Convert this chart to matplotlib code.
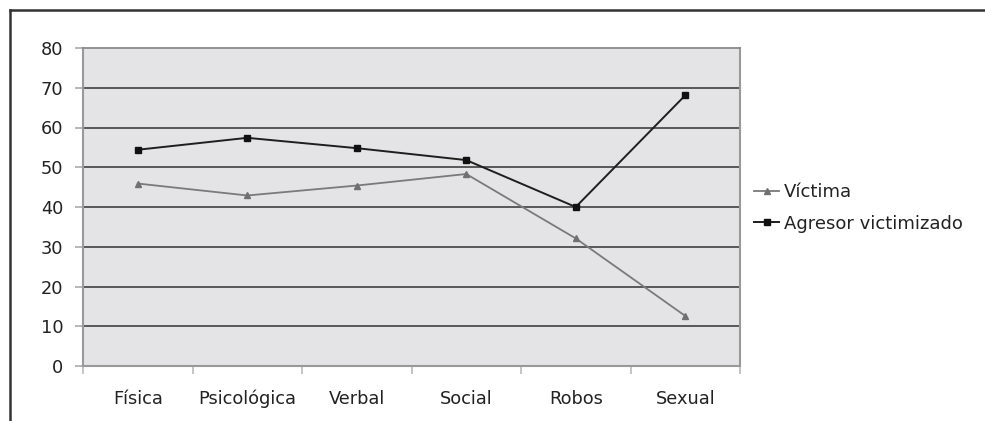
import matplotlib
matplotlib.use("Agg")
import matplotlib.pyplot as plt
from matplotlib.lines import Line2D

categories = ["Física", "Psicológica", "Verbal", "Social", "Robos", "Sexual"]
victima = [45.9, 42.9, 45.4, 48.3, 32.1, 12.6]
agresor = [54.4, 57.4, 54.8, 51.8, 40.0, 68.1]
series_names = ["Víctima", "Agresor victimizado"]
yticks = [0, 10, 20, 30, 40, 50, 60, 70, 80]

plt.rcParams['font.family'] = ['DejaVu Sans']

fig = plt.figure(figsize=(9.85, 4.21), dpi=100)
ax = fig.add_axes([83/985, 55/421, (740-83)/985, (366-48)/421])
ax.set_facecolor("#e4e4e6")

x = list(range(len(categories)))
ax.set_xlim(-0.5, len(categories) - 0.5)
ax.set_ylim(0, 80)

for yv in yticks[1:-1]:
    ax.axhline(yv, color="#4d4d4d", lw=1.3, zorder=1)

l1, = ax.plot(x, victima, color="#7a7a7a", lw=1.3, marker="^", ms=5,
              markerfacecolor="#707070", markeredgecolor="#707070", zorder=3)
l2, = ax.plot(x, agresor, color="#1e1e1e", lw=1.4, marker="s", ms=4.5,
              markerfacecolor="#111111", markeredgecolor="#111111", zorder=3)

ax.set_yticks(yticks)
ax.set_yticklabels([str(v) for v in yticks], fontsize=12.8, color="#222222")
ax.set_xticks(x)
ax.set_xticklabels(categories, fontsize=12.8, color="#222222")
ax.tick_params(axis="y", length=6, width=1.2, color="#aaaaaa", pad=8)
ax.tick_params(axis="x", length=0, pad=17)
# minor ticks at category boundaries
ax.set_xticks([i - 0.5 for i in range(len(categories) + 1)], minor=True)
ax.tick_params(axis="x", which="minor", length=6, width=1.2, color="#bbbbbb")

for s in ["left", "right", "bottom"]:
    ax.spines[s].set_color("#999999")
    ax.spines[s].set_linewidth(1.5)
ax.spines["top"].set_color("#8a8a8a")
ax.spines["top"].set_linewidth(1.3)

leg = fig.legend([l1, l2], series_names, loc="upper left",
                 bbox_to_anchor=(754/985, 1 - 183/421), frameon=False,
                 fontsize=13, handlelength=1.4, handletextpad=0.25,
                 labelspacing=0.75, borderaxespad=0, borderpad=0)
for t in leg.get_texts():
    t.set_color("#222222")

# figure frame: top and left lines
fig.add_artist(Line2D([10/985, 1], [1 - 10/421, 1 - 10/421], transform=fig.transFigure,
                      color="#333333", lw=1.8))
fig.add_artist(Line2D([10/985, 10/985], [0, 1 - 10/421], transform=fig.transFigure,
                      color="#333333", lw=1.8))

fig.savefig("out.png", dpi=100)
